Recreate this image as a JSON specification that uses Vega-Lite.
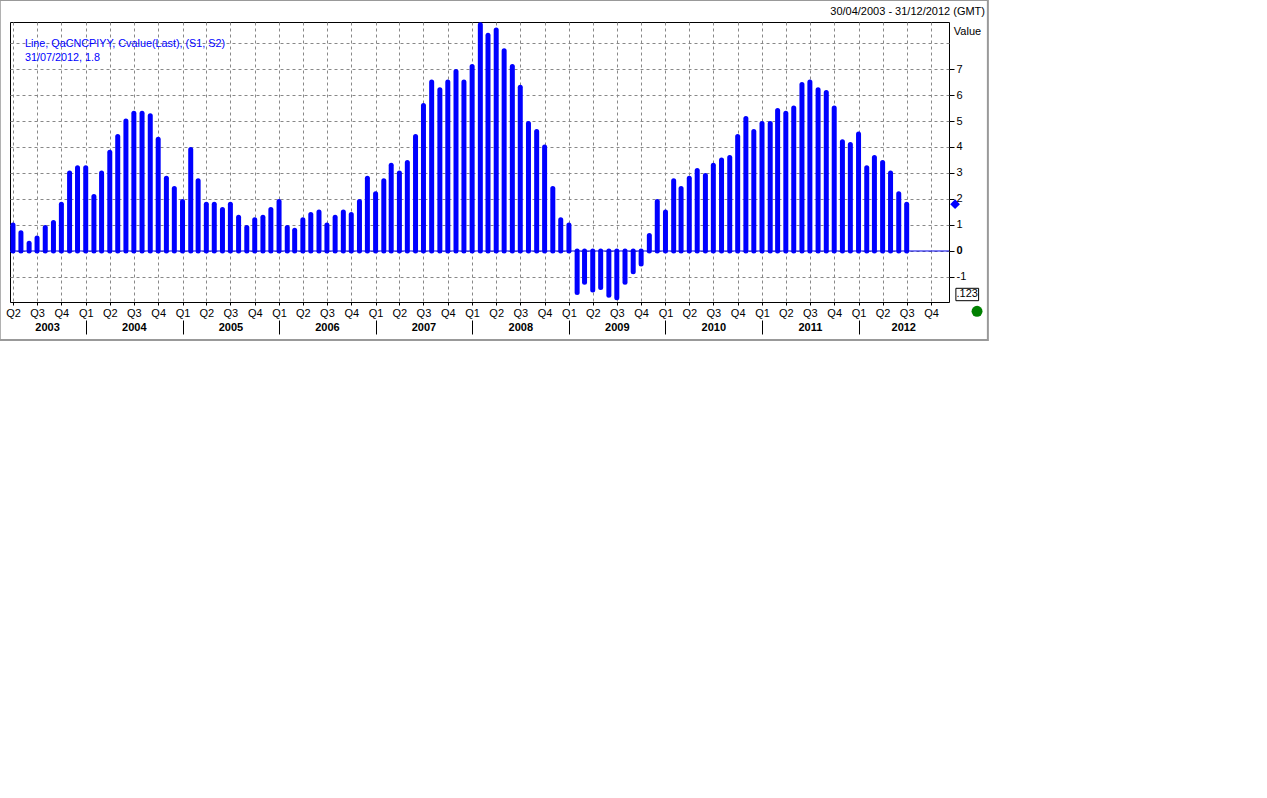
{
  "$schema": "https://vega.github.io/schema/vega-lite/v6.json",
  "width": 939,
  "height": 280,
  "autosize": {"type": "none"},
  "padding": {"left": 10, "top": 22, "right": 318, "bottom": 496},
  "background": "white",
  "title": {"text": "30/04/2003 - 31/12/2012 (GMT)", "anchor": "end", "frame": "group", "dx": 36, "offset": -18, "fontSize": 11, "fontWeight": "normal", "font": "Liberation Sans", "color": "black"},
  "config": {"view": {"stroke": "black", "strokeWidth": 1}, "font": "Liberation Sans"},
  "data": {"values": [
    {"date": "2003-04-01", "value": 1.0}, {"date": "2003-05-01", "value": 0.7}, {"date": "2003-06-01", "value": 0.3},
    {"date": "2003-07-01", "value": 0.5}, {"date": "2003-08-01", "value": 0.9}, {"date": "2003-09-01", "value": 1.1},
    {"date": "2003-10-01", "value": 1.8}, {"date": "2003-11-01", "value": 3.0}, {"date": "2003-12-01", "value": 3.2},
    {"date": "2004-01-01", "value": 3.2}, {"date": "2004-02-01", "value": 2.1}, {"date": "2004-03-01", "value": 3.0},
    {"date": "2004-04-01", "value": 3.8}, {"date": "2004-05-01", "value": 4.4}, {"date": "2004-06-01", "value": 5.0},
    {"date": "2004-07-01", "value": 5.3}, {"date": "2004-08-01", "value": 5.3}, {"date": "2004-09-01", "value": 5.2},
    {"date": "2004-10-01", "value": 4.3}, {"date": "2004-11-01", "value": 2.8}, {"date": "2004-12-01", "value": 2.4},
    {"date": "2005-01-01", "value": 1.9}, {"date": "2005-02-01", "value": 3.9}, {"date": "2005-03-01", "value": 2.7},
    {"date": "2005-04-01", "value": 1.8}, {"date": "2005-05-01", "value": 1.8}, {"date": "2005-06-01", "value": 1.6},
    {"date": "2005-07-01", "value": 1.8}, {"date": "2005-08-01", "value": 1.3}, {"date": "2005-09-01", "value": 0.9},
    {"date": "2005-10-01", "value": 1.2}, {"date": "2005-11-01", "value": 1.3}, {"date": "2005-12-01", "value": 1.6},
    {"date": "2006-01-01", "value": 1.9}, {"date": "2006-02-01", "value": 0.9}, {"date": "2006-03-01", "value": 0.8},
    {"date": "2006-04-01", "value": 1.2}, {"date": "2006-05-01", "value": 1.4}, {"date": "2006-06-01", "value": 1.5},
    {"date": "2006-07-01", "value": 1.0}, {"date": "2006-08-01", "value": 1.3}, {"date": "2006-09-01", "value": 1.5},
    {"date": "2006-10-01", "value": 1.4}, {"date": "2006-11-01", "value": 1.9}, {"date": "2006-12-01", "value": 2.8},
    {"date": "2007-01-01", "value": 2.2}, {"date": "2007-02-01", "value": 2.7}, {"date": "2007-03-01", "value": 3.3},
    {"date": "2007-04-01", "value": 3.0}, {"date": "2007-05-01", "value": 3.4}, {"date": "2007-06-01", "value": 4.4},
    {"date": "2007-07-01", "value": 5.6}, {"date": "2007-08-01", "value": 6.5}, {"date": "2007-09-01", "value": 6.2},
    {"date": "2007-10-01", "value": 6.5}, {"date": "2007-11-01", "value": 6.9}, {"date": "2007-12-01", "value": 6.5},
    {"date": "2008-01-01", "value": 7.1}, {"date": "2008-02-01", "value": 8.7}, {"date": "2008-03-01", "value": 8.3},
    {"date": "2008-04-01", "value": 8.5}, {"date": "2008-05-01", "value": 7.7}, {"date": "2008-06-01", "value": 7.1},
    {"date": "2008-07-01", "value": 6.3}, {"date": "2008-08-01", "value": 4.9}, {"date": "2008-09-01", "value": 4.6},
    {"date": "2008-10-01", "value": 4.0}, {"date": "2008-11-01", "value": 2.4}, {"date": "2008-12-01", "value": 1.2},
    {"date": "2009-01-01", "value": 1.0}, {"date": "2009-02-01", "value": -1.6}, {"date": "2009-03-01", "value": -1.2},
    {"date": "2009-04-01", "value": -1.5}, {"date": "2009-05-01", "value": -1.4}, {"date": "2009-06-01", "value": -1.7},
    {"date": "2009-07-01", "value": -1.8}, {"date": "2009-08-01", "value": -1.2}, {"date": "2009-09-01", "value": -0.8},
    {"date": "2009-10-01", "value": -0.5}, {"date": "2009-11-01", "value": 0.6}, {"date": "2009-12-01", "value": 1.9},
    {"date": "2010-01-01", "value": 1.5}, {"date": "2010-02-01", "value": 2.7}, {"date": "2010-03-01", "value": 2.4},
    {"date": "2010-04-01", "value": 2.8}, {"date": "2010-05-01", "value": 3.1}, {"date": "2010-06-01", "value": 2.9},
    {"date": "2010-07-01", "value": 3.3}, {"date": "2010-08-01", "value": 3.5}, {"date": "2010-09-01", "value": 3.6},
    {"date": "2010-10-01", "value": 4.4}, {"date": "2010-11-01", "value": 5.1}, {"date": "2010-12-01", "value": 4.6},
    {"date": "2011-01-01", "value": 4.9}, {"date": "2011-02-01", "value": 4.9}, {"date": "2011-03-01", "value": 5.4},
    {"date": "2011-04-01", "value": 5.3}, {"date": "2011-05-01", "value": 5.5}, {"date": "2011-06-01", "value": 6.4},
    {"date": "2011-07-01", "value": 6.5}, {"date": "2011-08-01", "value": 6.2}, {"date": "2011-09-01", "value": 6.1},
    {"date": "2011-10-01", "value": 5.5}, {"date": "2011-11-01", "value": 4.2}, {"date": "2011-12-01", "value": 4.1},
    {"date": "2012-01-01", "value": 4.5}, {"date": "2012-02-01", "value": 3.2}, {"date": "2012-03-01", "value": 3.6},
    {"date": "2012-04-01", "value": 3.4}, {"date": "2012-05-01", "value": 3.0}, {"date": "2012-06-01", "value": 2.2},
    {"date": "2012-07-01", "value": 1.8}
  ]},
  "resolve": {"axis": {"x": "independent", "y": "independent"}},
  "layer": [
    {
      "mark": {"type": "rule", "strokeWidth": 5, "strokeCap": "round", "color": "#0000FF"},
      "encoding": {
        "x": {
          "field": "date", "type": "temporal",
          "scale": {"type": "utc", "domain": [{"year": 2003, "month": 3, "date": 20, "hours": 17, "utc": true}, {"year": 2012, "month": 12, "date": 8, "utc": true}]},
          "axis": {
            "orient": "bottom", "title": null,
            "tickCount": {"interval": "month", "step": 3},
            "labelExpr": "'Q' + (floor(utcmonth(datum.value) / 3) + 1)",
            "grid": true, "gridDash": [3, 3], "gridColor": "#888888",
            "domain": false, "tickSize": 3, "tickColor": "black",
            "labelPadding": 2, "labelFontSize": 11, "labelColor": "black",
            "labelFlush": false, "labelOverlap": false, "labelBound": false
          }
        },
        "y": {
          "field": "value", "type": "quantitative",
          "scale": {"domain": [-1.962, 8.808], "nice": false, "zero": false},
          "axis": {
            "orient": "right",
            "values": [-1, 0, 1, 2, 3, 4, 5, 6, 7, 8],
            "labelExpr": "datum.value == 8 ? '' : '' + datum.value",
            "labelOverlap": false, "labelBound": false, "labelFlush": false,
            "grid": true, "gridDash": [3, 3], "gridColor": "#888888",
            "domain": false, "tickSize": 5, "tickColor": "black",
            "tickOpacity": {"condition": {"test": "datum.value == 8", "value": 0}, "value": 1},
            "labelFontWeight": {"condition": {"test": "datum.value == 0", "value": "bold"}, "value": "normal"},
            "labelFontSize": 11, "labelColor": "black", "labelPadding": 2,
            "title": "Value", "titleAngle": 0, "titleX": 18, "titleY": 9,
            "titleAlign": "center", "titleBaseline": "middle",
            "titleFontWeight": "normal", "titleFontSize": 11, "titleColor": "black"
          }
        },
        "y2": {"datum": 0}
      }
    },
    {
      "data": {"values": [{}]},
      "mark": {"type": "rect", "filled": false, "stroke": "#999999", "strokeWidth": 2},
      "encoding": {
        "x": {"datum": {"year": 2003, "month": 2, "date": 10, "utc": true}, "type": "temporal", "axis": null},
        "x2": {"datum": {"year": 2013, "month": 5, "date": 4, "utc": true}},
        "y": {"datum": 9.65, "type": "quantitative", "axis": null},
        "y2": {"datum": -3.42}
      }
    },
    {
      "data": {"values": [{}]},
      "mark": {"type": "rule", "color": "#0000EE", "strokeWidth": 1},
      "encoding": {"y": {"datum": 0, "type": "quantitative", "axis": null}}
    },
    {
      "data": {"values": [{}]},
      "mark": {"type": "point", "shape": "diamond", "filled": true, "color": "#0000FF", "size": 95, "opacity": 1},
      "encoding": {
        "x": {"datum": {"year": 2012, "month": 12, "date": 31, "utc": true}, "type": "temporal",
          "axis": {
            "orient": "bottom", "offset": 18, "title": null,
            "values": [
              {"year": 2004, "month": 1, "date": 1, "utc": true}, {"year": 2005, "month": 1, "date": 1, "utc": true},
              {"year": 2006, "month": 1, "date": 1, "utc": true}, {"year": 2007, "month": 1, "date": 1, "utc": true},
              {"year": 2008, "month": 1, "date": 1, "utc": true}, {"year": 2009, "month": 1, "date": 1, "utc": true},
              {"year": 2010, "month": 1, "date": 1, "utc": true}, {"year": 2011, "month": 1, "date": 1, "utc": true},
              {"year": 2012, "month": 1, "date": 1, "utc": true}
            ],
            "labels": false, "domain": false, "grid": false,
            "ticks": true, "tickSize": 14, "tickColor": "black", "tickWidth": 1
          }
        },
        "y": {"datum": 1.8, "type": "quantitative", "axis": null}
      }
    },
    {
      "data": {"values": [{}]},
      "mark": {"type": "text", "text": ["Line, QaCNCPIYY, Cvalue(Last), (S1, S2)", "31/07/2012, 1.8"], "align": "left", "baseline": "top", "color": "#0000FF", "fontSize": 10.8, "lineHeight": 14},
      "encoding": {
        "x": {"datum": {"year": 2003, "month": 5, "date": 16, "utc": true}, "type": "temporal",
          "axis": {
            "orient": "bottom", "offset": 18, "title": null,
            "values": [
              {"year": 2003, "month": 8, "date": 8, "utc": true}, {"year": 2004, "month": 7, "date": 1, "utc": true},
              {"year": 2005, "month": 7, "date": 1, "utc": true}, {"year": 2006, "month": 7, "date": 1, "utc": true},
              {"year": 2007, "month": 7, "date": 1, "utc": true}, {"year": 2008, "month": 7, "date": 1, "utc": true},
              {"year": 2009, "month": 7, "date": 1, "utc": true}, {"year": 2010, "month": 7, "date": 1, "utc": true},
              {"year": 2011, "month": 7, "date": 1, "utc": true}, {"year": 2012, "month": 6, "date": 18, "utc": true}
            ],
            "labelExpr": "utcFormat(datum.value, '%Y')",
            "ticks": false, "domain": false, "grid": false,
            "labelFontWeight": "bold", "labelFontSize": 11, "labelColor": "black", "labelPadding": 1,
            "labelFlush": false, "labelOverlap": false, "labelBound": false
          }
        },
        "y": {"datum": 8.19, "type": "quantitative", "axis": null}
      }
    },
    {
      "data": {"values": [{}]},
      "mark": {"type": "rect", "fill": "white", "stroke": "black", "strokeWidth": 1},
      "encoding": {
        "x": {"datum": {"year": 2013, "month": 1, "date": 3, "utc": true}, "type": "temporal", "axis": null},
        "x2": {"datum": {"year": 2013, "month": 3, "date": 30, "utc": true}},
        "y": {"datum": -1.435, "type": "quantitative", "axis": null},
        "y2": {"datum": -1.912}
      }
    },
    {
      "data": {"values": [{}]},
      "mark": {"type": "text", "text": ".123", "align": "center", "baseline": "middle", "color": "black", "fontSize": 11},
      "encoding": {
        "x": {"datum": {"year": 2013, "month": 2, "date": 15, "utc": true}, "type": "temporal", "axis": null},
        "y": {"datum": -1.673, "type": "quantitative", "axis": null}
      }
    },
    {
      "data": {"values": [{}]},
      "mark": {"type": "point", "shape": "circle", "filled": true, "color": "#008000", "size": 120, "opacity": 1},
      "encoding": {
        "x": {"datum": {"year": 2013, "month": 3, "date": 24, "utc": true}, "type": "temporal", "axis": null},
        "y": {"datum": -2.32, "type": "quantitative", "axis": null}
      }
    }
  ]
}
